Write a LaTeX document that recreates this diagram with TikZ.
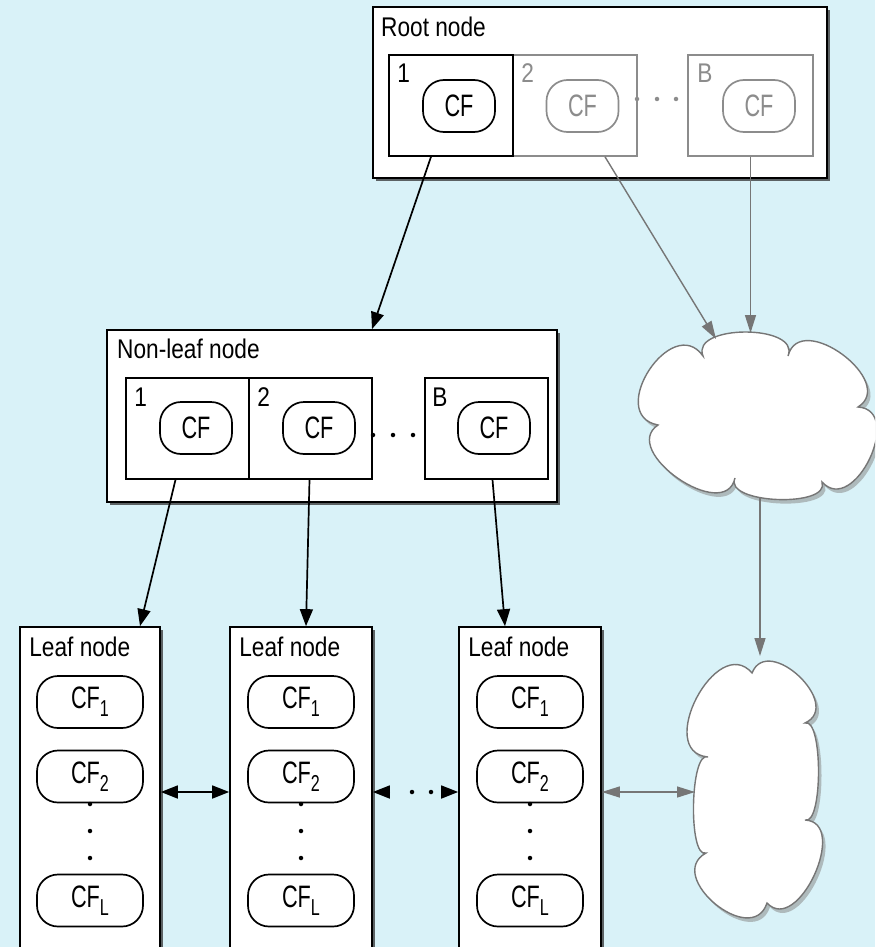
\documentclass[tikz,border=0pt]{standalone}
\usepackage{fontspec}
\setmainfont[FakeStretch=0.84]{Liberation Sans}
\newfontfamily\cffont[FakeStretch=0.7]{Liberation Sans}
\usetikzlibrary{shadows,arrows.meta,calc}
\definecolor{bg}{RGB}{217,242,248}
\definecolor{lgray}{RGB}{140,140,140}
\definecolor{agray}{RGB}{118,118,118}
\newcommand{\mysub}[1]{\raisebox{-8pt}{\fontsize{23}{23}\selectfont #1}}
\newcommand{\cloudonepath}{(703,356) .. controls (690,324) and (801,324) .. (788,356)
  .. controls (800,309) and (898,382) .. (858,407)
  .. controls (905,410) and (854,517) .. (822,482)
  .. controls (831,508) and (723,504) .. (735,478)
  .. controls (725,524) and (619,451) .. (658,425)
  .. controls (605,415) and (672,312) .. (703,356) -- cycle}
\newcommand{\cloudtwopath}{(752,673) .. controls (768,633) and (844,705) .. (805,723)
  .. controls (823,717) and (823,826) .. (805,820)
  .. controls (850,822) and (798,936) .. (767,903)
  .. controls (752,949) and (664,876) .. (706,853)
  .. controls (688,859) and (690,750) .. (708,757)
  .. controls (654,752) and (717,632) .. (752,673) -- cycle}
\begin{document}
\begin{tikzpicture}[x=1pt,y=-1pt,
  font=\fontsize{27}{31}\selectfont,
  outerbox/.style={draw, line width=1.7pt, fill=white, inner sep=0pt,
    drop shadow={shadow xshift=3pt, shadow yshift=-3pt, opacity=0.75, fill=black!80}},
  cellbox/.style={draw, line width=1.6pt, fill=white, inner sep=0pt, minimum height=101pt},
  pill/.style={draw, line width=1.7pt, rounded corners=21pt, inner sep=0pt, minimum height=52pt,
    font=\cffont\fontsize{31}{34}\selectfont},
  lpill/.style={pill, minimum width=106pt},
  spill/.style={pill, minimum width=72pt},
  grayed/.style={draw=lgray, text=lgray},
  lab/.style={anchor=base west, inner sep=0pt},
  arr/.style={line width=1.7pt, -{Triangle[length=17pt,width=13pt]}},
  darr/.style={line width=1.7pt, {Triangle[length=17pt,width=13pt]}-{Triangle[length=17pt,width=13pt]}},
  garr/.style={line width=1.4pt, draw=agray, -{Triangle[length=18pt,width=11pt]}, agray},
  gdarr/.style={line width=1.4pt, draw=agray, {Triangle[length=18pt,width=11pt]}-{Triangle[length=18pt,width=11pt]}, agray},
  cloudline/.style={draw=agray, line width=1.4pt, fill=white},
  cloudshadow/.style={fill=black!45, opacity=0.55, shift={(3,4)}},
  dot/.style={circle, fill, inner sep=0pt, minimum size=4.5pt}
]
\useasboundingbox (0,0) rectangle (875,947);
\clip (0,0) rectangle (875,947);
\fill[bg] (0,0) rectangle (875,947);

% ---------- Clouds ----------
\fill[cloudshadow] \cloudonepath;
\path[cloudline] \cloudonepath;
\fill[cloudshadow] \cloudtwopath;
\path[cloudline] \cloudtwopath;
\coordinate (c1top) at (755,333);
\coordinate (c1nw) at (716,339);
\coordinate (c1bot) at (760,497);
\coordinate (c2top) at (760,656);
\coordinate (c2left) at (695,792);

% ---------- Root node ----------
\node[outerbox, minimum width=454pt, minimum height=171pt] (root) at (600,92.5) {};
\node[lab] (rootlbl) at (381,37) {Root node};
\node[cellbox, grayed, minimum width=124pt] (r2) at (575,105.5) {};
\node[cellbox, grayed, minimum width=125pt] (rB) at (750.5,105.5) {};
\node[cellbox, minimum width=124pt] (r1) at (451,105.5) {};
\node[spill] (rp1) at (459,106) {CF};
\node[spill, grayed] (rp2) at (582.5,106) {CF};
\node[spill, grayed] (rpB) at (759,106) {CF};
\node[lab] (r1n) at ([xshift=9pt,yshift=-28pt]r1.north west) {1};
\node[lab, text=lgray] (r2n) at ([xshift=9pt,yshift=-28pt]r2.north west) {2};
\node[lab, text=lgray] (rBn) at ([xshift=10pt,yshift=-28pt]rB.north west) {B};
\node[dot, lgray] (rd1) at (637,99) {};
\node[dot, lgray] (rd2) at (657,99) {};
\node[dot, lgray] (rd3) at (676,99) {};

% ---------- Non-leaf node ----------
\node[outerbox, minimum width=450pt, minimum height=172pt] (nl) at (332,416) {};
\node[lab] (nllbl) at (117,358) {Non-leaf node};
\node[cellbox, minimum width=123pt] (n2) at (310.5,428.5) {};
\node[cellbox, minimum width=123pt] (n1) at (187.5,428.5) {};
\node[cellbox, minimum width=123pt] (nB) at (486.5,428.5) {};
\node[spill] (np1) at (196,428) {CF};
\node[spill] (np2) at (319,428) {CF};
\node[spill] (npB) at (494,428) {CF};
\node[lab] (n1n) at ([xshift=9pt,yshift=-29pt]n1.north west) {1};
\node[lab] (n2n) at ([xshift=9pt,yshift=-29pt]n2.north west) {2};
\node[lab] (nBn) at ([xshift=8pt,yshift=-29pt]nB.north west) {B};
\node[dot] (nd1) at (373,435) {};
\node[dot] (nd2) at (393,435) {};
\node[dot] (nd3) at (413,435) {};

% ---------- Leaf nodes ----------
\node[outerbox, minimum width=140pt, minimum height=330pt] (L1) at (90,792) {};
\node[outerbox, minimum width=142pt, minimum height=330pt] (L2) at (301,792) {};
\node[outerbox, minimum width=142pt, minimum height=330pt] (L3) at (530,792) {};
\foreach \n/\x in {1/90,2/301,3/530}{
  \node[lab] (L\n lbl) at ([xshift=10pt,yshift=-30pt]L\n.north west) {Leaf node};
  \node[lpill] (L\n a) at (\x,702) {CF\mysub{1}};
  \node[lpill] (L\n b) at (\x,776.5) {CF\mysub{2}};
  \node[lpill] (L\n c) at (\x,900.5) {CF\mysub{L}};
  \node[dot] (L\n d1) at (\x,804) {};
  \node[dot] (L\n d2) at (\x,831) {};
  \node[dot] (L\n d3) at (\x,858) {};
}

% ---------- Black connectors ----------
\draw[arr] ([xshift=-20pt]r1.south) -- ([xshift=40pt]nl.north);
\draw[arr] ([xshift=-12pt]n1.south) -- ([xshift=50pt]L1.north);
\draw[arr] ([xshift=-1pt]n2.south) -- ([xshift=5pt]L2.north);
\draw[arr] ([xshift=6pt]nB.south) -- ([xshift=-25pt]L3.north);
\draw[darr] (L1.east) -- (L2.west);
\coordinate (m1) at (390,792);
\coordinate (m2) at (441,792);
\draw[arr] (m1) -- (L2.east);
\draw[arr] (m2) -- (L3.west);
\node[dot] (md1) at (412,792) {};
\node[dot] (md2) at (431,792) {};

% ---------- Gray connectors ----------
\draw[garr] ([xshift=30pt]r2.south) -- (c1nw);
\draw[garr] (rB.south) -- (rB.south |- c1top);
\draw[garr] (c1bot) -- (c2top);
\draw[gdarr] (L3.east) -- (L3.east -| c2left);
\end{tikzpicture}
\end{document}
